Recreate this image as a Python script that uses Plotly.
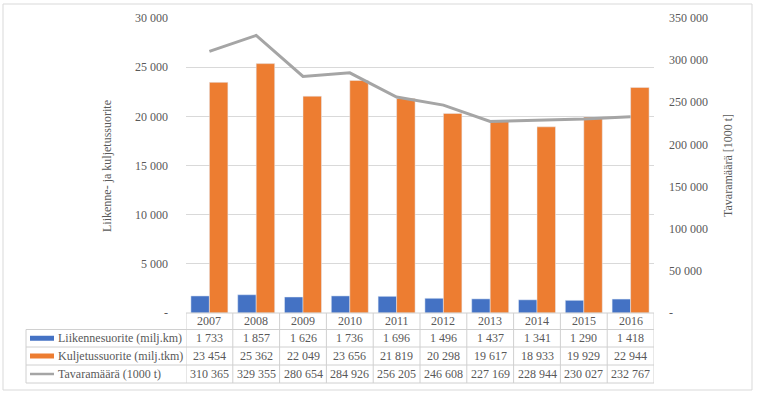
import plotly.graph_objects as go

years = ["2007", "2008", "2009", "2010", "2011", "2012", "2013", "2014", "2015", "2016"]
liikenne = [1733, 1857, 1626, 1736, 1696, 1496, 1437, 1341, 1290, 1418]
kuljetus = [23454, 25362, 22049, 23656, 21819, 20298, 19617, 18933, 19929, 22944]
tavara = [310365, 329355, 280654, 284926, 256205, 246608, 227169, 228944, 230027, 232767]
series_names = ["Liikennesuorite (milj.km)", "Kuljetussuorite (milj.tkm)", "Tavaramäärä (1000 t)"]
left_ticks = [0, 5000, 10000, 15000, 20000, 25000, 30000]
right_ticks = [0, 50000, 100000, 150000, 200000, 250000, 300000, 350000]

W, H = 757, 395
L, R, T, B = 186, 654, 18, 313
FONT = "Liberation Serif"
FS = 12
TXT = "#595959"
GRID = "#D9D9D9"
BLUE, ORANGE, GRAY = "#4472C4", "#ED7D31", "#A5A5A5"


def fmt(v):
    return "-" if v == 0 else f"{v:,}".replace(",", " ")


def xp(px):
    return (px - L) / (R - L)


def yp(py):
    return (B - py) / (B - T)


idx = list(range(len(years)))
fig = go.Figure()
fig.add_trace(go.Bar(x=idx, y=liikenne, name=series_names[0], marker_color=BLUE))
fig.add_trace(go.Bar(x=idx, y=kuljetus, name=series_names[1], marker_color=ORANGE))
fig.add_trace(go.Scatter(x=idx, y=tavara, name=series_names[2], mode="lines",
                         line=dict(color=GRAY, width=3), yaxis="y2"))

shapes = []
annotations = []
row_edges = [313, 329.5, 347, 365, 383]
# outer border
shapes.append(dict(type="rect", xref="paper", yref="paper", x0=xp(3), x1=xp(752), y0=yp(4), y1=yp(390),
                   line=dict(color="#D9D9D9", width=1), layer="below"))
# table horizontal lines
for k, ry in enumerate(row_edges):
    x0 = xp(L) if k == 0 else xp(26)
    shapes.append(dict(type="line", xref="paper", yref="paper", x0=x0, x1=xp(R), y0=yp(ry), y1=yp(ry),
                       line=dict(color="#D0D0D0", width=1)))
# vertical lines
for i in range(len(years) + 1):
    shapes.append(dict(type="line", xref="x", yref="paper", x0=i - 0.5, x1=i - 0.5,
                       y0=yp(row_edges[0]), y1=yp(row_edges[-1]), line=dict(color="#D0D0D0", width=1)))
shapes.append(dict(type="line", xref="paper", yref="paper", x0=xp(26), x1=xp(26),
                   y0=yp(row_edges[1]), y1=yp(row_edges[-1]), line=dict(color="#D0D0D0", width=1)))

txtfont = dict(family=FONT, size=FS, color=TXT)
# header years
for i, yr in enumerate(years):
    annotations.append(dict(x=i, xref="x", y=yp((row_edges[0] + row_edges[1]) / 2), yref="paper",
                            xanchor="center", yanchor="middle", text=yr, showarrow=False, font=txtfont))
# rows
rows = [liikenne, kuljetus, tavara]
colors = [BLUE, ORANGE, GRAY]
for r, (vals, name, col) in enumerate(zip(rows, series_names, colors)):
    cy = (row_edges[r + 1] + row_edges[r + 2]) / 2
    for i, v in enumerate(vals):
        annotations.append(dict(x=i, xref="x", y=yp(cy), yref="paper", xanchor="center", yanchor="middle",
                                text=fmt(v), showarrow=False, font=txtfont))
    annotations.append(dict(x=xp(56), xref="paper", y=yp(cy), yref="paper", text=name, showarrow=False,
                            xanchor="left", yanchor="middle", font=txtfont))
    if r < 2:
        shapes.append(dict(type="rect", xref="paper", yref="paper", x0=xp(30), x1=xp(54),
                           y0=yp(cy - 2.5), y1=yp(cy + 2.5), fillcolor=col, line=dict(width=0)))
    else:
        shapes.append(dict(type="line", xref="paper", yref="paper", x0=xp(30), x1=xp(54),
                           y0=yp(cy), y1=yp(cy), line=dict(color=col, width=2.5)))

# axis titles
annotations.append(dict(x=xp(107), xref="paper", y=yp(166), yref="paper", text="Liikenne- ja kuljetussuorite",
                        xanchor="center", yanchor="middle", textangle=-90, showarrow=False, font=txtfont))
annotations.append(dict(x=xp(728), xref="paper", y=yp(166), yref="paper", text="Tavaramäärä [1000 t]",
                        xanchor="center", yanchor="middle", textangle=-90, showarrow=False, font=txtfont))

fig.update_layout(
    width=W, height=H,
    margin=dict(l=L, r=W - R, t=T, b=H - B, pad=0),
    paper_bgcolor="white", plot_bgcolor="white",
    barmode="group", bargap=0.21, bargroupgap=0,
    showlegend=False,
    font=dict(family=FONT, size=FS, color=TXT),
    xaxis=dict(range=[-0.5, len(years) - 0.5], showticklabels=False, showgrid=False, zeroline=False,
               showline=False, ticks=""),
    yaxis=dict(range=[0, 30000], tickvals=left_ticks, ticktext=[fmt(v) for v in left_ticks],
               showgrid=True, gridcolor=GRID, gridwidth=1, zeroline=False, showline=False,
               ticks="", ticklabelstandoff=17, tickfont=txtfont),
    yaxis2=dict(range=[0, 350000], overlaying="y", side="right", tickvals=right_ticks,
                ticktext=[fmt(v) for v in right_ticks], showgrid=False, zeroline=False, showline=False,
                ticks="", ticklabelstandoff=14, tickfont=txtfont),
    shapes=shapes, annotations=annotations,
)

fig.write_html("out.html", config={"displayModeBar": False},
               post_script="document.body.style.margin='0';document.body.style.overflow='hidden';")
